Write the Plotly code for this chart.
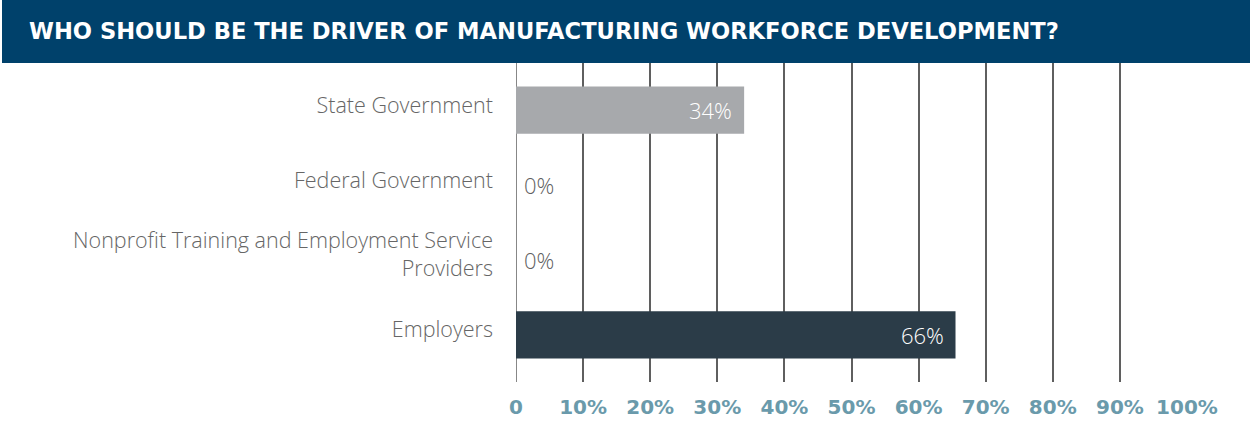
import plotly.graph_objects as go

categories = ["State Government", "Federal Government",
              "Nonprofit Training and Employment Service<br>Providers", "Employers"]
values = [34, 0, 0, 65.5]
value_labels = ["34%", "0%", "0%", "66%"]
bar_colors = ["#A7A9AC", "#A7A9AC", "#A7A9AC", "#2B3C48"]
tick_vals = [0, 10, 20, 30, 40, 50, 60, 70, 80, 90, 100]
tick_text = ["0", "10%", "20%", "30%", "40%", "50%", "60%", "70%", "80%", "90%", "100%"]
title = "WHO SHOULD BE THE DRIVER OF MANUFACTURING WORKFORCE DEVELOPMENT?"

W, H = 1250, 440
ml, mr, mt, mb = 516, 63, 63, 58

fig = go.Figure(go.Bar(
    y=categories, x=values, orientation="h",
    marker=dict(color=bar_colors, line=dict(width=0)),
    width=0.63,
    hoverinfo="x+y",
))

for cat, v, lab in zip(categories, values, value_labels):
    if v > 0:
        fig.add_annotation(x=v, y=cat, xref="x", yref="y", text=lab,
                           xanchor="right", yanchor="middle", xshift=-10,
                           showarrow=False,
                           font=dict(color="white", size=22, family="Open Sans", weight=300))
    else:
        fig.add_annotation(x=v, y=cat, xref="x", yref="y", text=lab,
                           xanchor="left", yanchor="middle", xshift=6,
                           showarrow=False,
                           font=dict(color="#5F5F5F", size=22, family="Open Sans", weight=300))

plot_h = H - mt - mb
plot_w = W - ml - mr
fig.add_shape(type="rect", xref="paper", yref="paper",
              x0=-ml / plot_w + 2 / plot_w, x1=1 + mr / plot_w,
              y0=1, y1=1 + mt / plot_h,
              fillcolor="#00416B", line=dict(width=0), layer="above")
fig.add_annotation(xref="paper", yref="paper",
                   x=-ml / plot_w + 27 / plot_w, y=1 + 32 / plot_h,
                   xanchor="left", yanchor="middle", showarrow=False,
                   text="<b>" + title + "</b>",
                   font=dict(color="white", size=22.6, family="DejaVu Sans"))

fig.update_layout(
    width=W, height=H,
    margin=dict(l=ml, r=mr, t=mt, b=mb),
    paper_bgcolor="white", plot_bgcolor="white",
    showlegend=False,
    xaxis=dict(range=[0, 100], tickvals=tick_vals, ticktext=tick_text,
               showgrid=True, gridcolor="#5F5F5F", gridwidth=1.5,
               zeroline=False, showline=False,
               tickfont=dict(color="#6A9AAB", size=20, family="DejaVu Sans", weight="bold"),
               ticks="", ticklabelstandoff=11),
    yaxis=dict(categoryorder="array", categoryarray=categories,
               range=[3.63, -0.63], showgrid=False, zeroline=False,
               ticks="", ticklabelstandoff=22, ticklabelshift=5,
               tickfont=dict(color="#666666", size=21.5, family="Open Sans", weight=300)),
)
fig.add_vline(x=0, line=dict(color="#5F5F5F", width=1.5), layer="below")

fig.write_html("out.html", config={"displayModeBar": False},
               post_script="document.body.style.margin='0';")
